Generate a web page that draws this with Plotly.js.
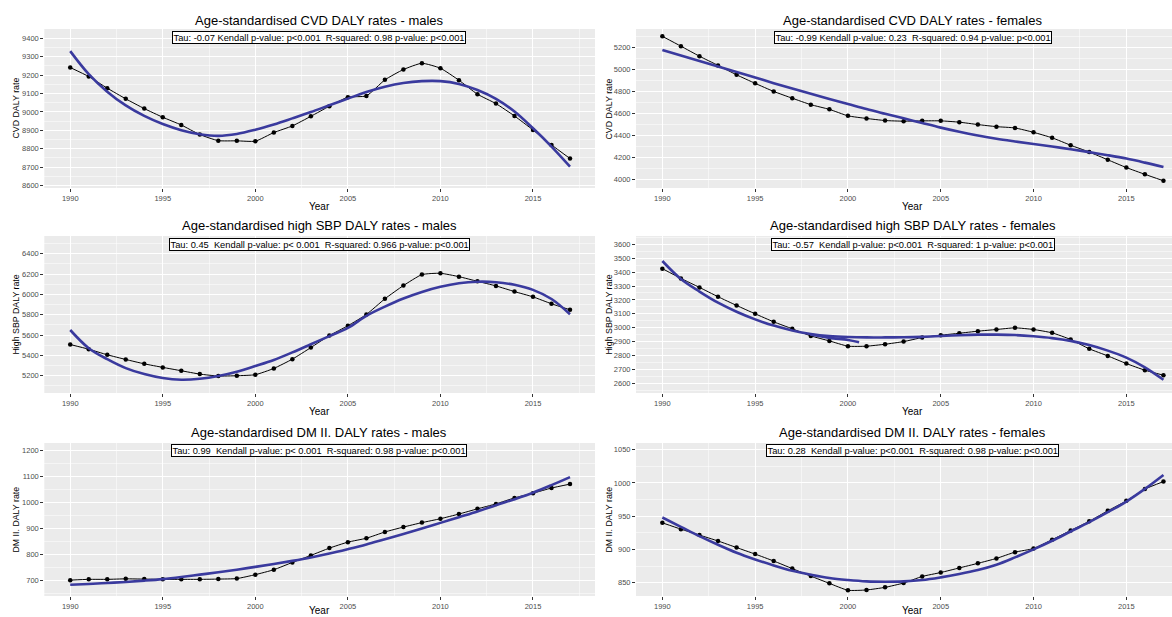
<!DOCTYPE html>
<html>
<head>
<meta charset="utf-8">
<script src="https://cdn.plot.ly/plotly-3.0.1.min.js"></script>
<style>html,body{margin:0;padding:0;background:#fff;}#chart{width:1172px;height:617px;}</style>
</head>
<body>
<div id="chart"></div>
<script>
const years = [1990,1991,1992,1993,1994,1995,1996,1997,1998,1999,2000,2001,2002,2003,2004,2005,2006,2007,2008,2009,2010,2011,2012,2013,2014,2015,2016,2017];
const xTickYears = [1990,1995,2000,2005,2010,2015];

const cvdMale    = [9241,9192,9129,9071,9018,8971,8929,8877,8844,8843,8841,8888,8924,8976,9031,9080,9087,9174,9230,9264,9237,9172,9096,9045,8978,8902,8821,8747];
const cvdMaleFit = [9330,9205,9110,9035,8978,8934,8901,8879,8870,8880,8903,8932,8965,8999,9036,9072,9108,9137,9157,9167,9167,9152,9119,9071,9002,8911,8812,8703];

const cvdFemale    = [5305,5215,5123,5039,4953,4875,4801,4739,4680,4637,4578,4554,4535,4529,4532,4532,4520,4498,4479,4467,4427,4377,4309,4247,4176,4105,4043,3984];
const cvdFemaleFit = [5180,5130,5080,5030,4978,4928,4877,4828,4780,4733,4687,4640,4597,4555,4512,4470,4432,4398,4368,4343,4320,4297,4273,4246,4218,4187,4150,4110];

const sbpMale    = [5507,5461,5406,5360,5317,5282,5249,5216,5197,5200,5210,5272,5363,5477,5595,5692,5803,5957,6087,6195,6208,6175,6129,6084,6028,5976,5908,5849];
const sbpMaleFit = [5650,5471,5363,5275,5216,5177,5161,5170,5197,5239,5295,5355,5430,5510,5590,5670,5790,5880,5960,6025,6075,6110,6125,6120,6095,6045,5955,5805];

const sbpFemale    = [3425,3355,3290,3223,3160,3100,3042,2992,2941,2905,2867,2867,2881,2900,2929,2946,2960,2975,2987,2999,2987,2963,2915,2848,2797,2742,2694,2658];
const sbpFemaleFit = [3480,3350,3260,3180,3115,3060,3015,2980,2955,2940,2933,2930,2930,2931,2934,2940,2946,2950,2950,2947,2938,2925,2905,2875,2835,2785,2715,2625];
const sbpFemaleExtraYears = [1997.97,1999,2000,2000.6];
const sbpFemaleExtra      = [2951,2927,2912,2896];

const dmMale    = [701,704,704,706,705,704,704,704,705,707,722,741,769,796,824,847,862,886,905,922,937,955,975,994,1017,1035,1055,1070];
const dmMaleFit = [683,686,690,694,699,705,713,722,731,741,752,763,775,788,803,820,838,858,878,899,921,943,965,989,1012,1037,1066,1097];

const dmFemale    = [940,930.5,921.6,912.7,902.8,893,882.6,871.2,859.9,849,838.6,839.1,843,849.5,859.4,865.3,872.2,879.1,886.5,895.9,901.4,914.7,928.5,942.3,958.1,973,990.7,1002];
const dmFemaleFit = [948,934,920,907,895,885,876,868,862,857,854,852,851.5,852,854,858,863,869,877,888,900,913,927,941,956,972,991,1012];

const panelTitles = [
  "Age-standardised CVD DALY rates - males",
  "Age-standardised CVD DALY rates - females",
  "Age-standardised high SBP DALY rates - males",
  "Age-standardised high SBP DALY rates - females",
  "Age-standardised DM II. DALY rates - males",
  "Age-standardised DM II. DALY rates - females"
];
const statTexts = [
  "Tau: -0.07 Kendall p-value: p<0.001 \u00A0R-squared: 0.98 p-value: p<0.001",
  "Tau: -0.99 Kendall p-value: 0.23 \u00A0R-squared: 0.94 p-value: p<0.001",
  "Tau: 0.45 \u00A0Kendall p-value: p< 0.001 \u00A0R-squared: 0.966 p-value: p<0.001",
  "Tau: -0.57 \u00A0Kendall p-value: p<0.001 \u00A0R-squared: 1 p-value: p<0.001",
  "Tau: 0.99 \u00A0Kendall p-value: p< 0.001 \u00A0R-squared: 0.98 p-value: p<0.001",
  "Tau: 0.28 \u00A0Kendall p-value: p<0.001 \u00A0R-squared: 0.98 p-value: p<0.001"
];
const yTitles = ["CVD DALY rate","CVD DALY rate","High SBP DALY rate","High SBP DALY rate","DM II. DALY rate","DM II. DALY rate"];
const xTitle = "Year";

const obs = [cvdMale, cvdFemale, sbpMale, sbpFemale, dmMale, dmFemale];
const fits = [cvdMaleFit, cvdFemaleFit, sbpMaleFit, sbpFemaleFit, dmMaleFit, dmFemaleFit];

// layout geometry (pixels)
const W = 1172, H = 617;
const colPx = [[44.3, 595], [636, 1172]];
const colRange = [[1988.6, 2018.35], [1988.58, 2017.46]];
const colCenter = [319.5, 912.5];
const rowPx = [[29, 188], [236, 393], [443, 596]];
const yRanges = [[8587, 9450], [3918, 5372], [5030, 6575], [2530, 3660], [640, 1228], [830, 1060]];
const yDtick = [100, 200, 200, 100, 100, 50];
const yTick0 = [8600, 4000, 5200, 2600, 700, 850];
const titleY = [20, 226, 432];
const boxY = [37.5, 244, 450];
const yTitleX = [15, 608];
const xTitleY = [206.7, 411.7, 610.5];

const FONT = "Liberation Sans, Arial, Helvetica, sans-serif";
const BLUE = "#3a3a9e";

const traces = [];
const layout = {
  width: W, height: H,
  margin: {l: 0, r: 0, t: 0, b: 0},
  paper_bgcolor: "#ffffff",
  plot_bgcolor: "#EBEBEB",
  showlegend: false,
  font: {family: FONT},
  annotations: []
};

for (let i = 0; i < 6; i++) {
  const col = i % 2, row = Math.floor(i / 2);
  const ax = i === 0 ? "" : String(i + 1);
  const xa = "x" + ax, ya = "y" + ax;
  traces.push({
    x: years, y: obs[i], xaxis: xa, yaxis: ya,
    type: "scatter", mode: "lines+markers",
    line: {color: "#000000", width: 1, shape: "spline", smoothing: 0.5},
    marker: {color: "#000000", size: 4.5},
    hoverinfo: "skip"
  });
  traces.push({
    x: years, y: fits[i], xaxis: xa, yaxis: ya,
    type: "scatter", mode: "lines",
    line: {color: BLUE, width: 2.6, shape: "spline", smoothing: 1},
    hoverinfo: "skip"
  });
  if (i === 3) {
    traces.push({
      x: sbpFemaleExtraYears, y: sbpFemaleExtra, xaxis: xa, yaxis: ya,
      type: "scatter", mode: "lines",
      line: {color: BLUE, width: 2.6, shape: "spline", smoothing: 1},
      hoverinfo: "skip"
    });
  }
  layout["xaxis" + ax] = {
    domain: [colPx[col][0] / W, colPx[col][1] / W],
    range: colRange[col],
    anchor: ya,
    tickmode: "linear", tick0: 1990, dtick: 5,
    ticks: "outside", ticklen: 3, tickwidth: 1, tickcolor: "#333333",
    tickfont: {size: 7.5, color: "#4D4D4D", family: FONT},
    showgrid: true, gridcolor: "#ffffff", gridwidth: 1,
    minor: {tick0: 1990, dtick: 2.5, showgrid: true, gridcolor: "#ffffff", gridwidth: 0.5, ticks: ""},
    zeroline: false, showline: false, fixedrange: true
  };
  layout["yaxis" + ax] = {
    domain: [1 - rowPx[row][1] / H, 1 - rowPx[row][0] / H],
    range: yRanges[i],
    anchor: xa,
    tickmode: "linear", tick0: yTick0[i], dtick: yDtick[i],
    ticks: "outside", ticklen: 3, tickwidth: 1, tickcolor: "#333333",
    tickfont: {size: 7.5, color: "#4D4D4D", family: FONT},
    showgrid: true, gridcolor: "#ffffff", gridwidth: 1,
    minor: {dtick: yDtick[i] / 2, showgrid: true, gridcolor: "#ffffff", gridwidth: 0.5, ticks: ""},
    zeroline: false, showline: false, fixedrange: true
  };
  layout.annotations.push({
    xref: "paper", yref: "paper",
    x: colCenter[col] / W, y: 1 - titleY[row] / H,
    xanchor: "center", yanchor: "middle",
    text: panelTitles[i], showarrow: false,
    font: {size: 13, color: "#000000", family: FONT}
  });
  layout.annotations.push({
    xref: "paper", yref: "paper",
    x: colCenter[col] / W, y: 1 - boxY[row] / H,
    xanchor: "center", yanchor: "middle",
    text: statTexts[i], showarrow: false,
    font: {size: 9.3, color: "#000000", family: FONT},
    bgcolor: "#ffffff", bordercolor: "#000000", borderwidth: 1, borderpad: 0.5
  });
  layout.annotations.push({
    xref: "paper", yref: "paper",
    x: yTitleX[col] / W, y: 1 - (rowPx[row][0] + rowPx[row][1]) / 2 / H,
    xanchor: "center", yanchor: "middle", textangle: -90,
    text: yTitles[i], showarrow: false,
    font: {size: 8.8, color: "#000000", family: FONT}
  });
  layout.annotations.push({
    xref: "paper", yref: "paper",
    x: colCenter[col] / W, y: 1 - xTitleY[row] / H,
    xanchor: "center", yanchor: "middle",
    text: xTitle, showarrow: false,
    font: {size: 10, color: "#000000", family: FONT}
  });
}

Plotly.newPlot("chart", traces, layout, {displayModeBar: false, staticPlot: true});
</script>
</body>
</html>
